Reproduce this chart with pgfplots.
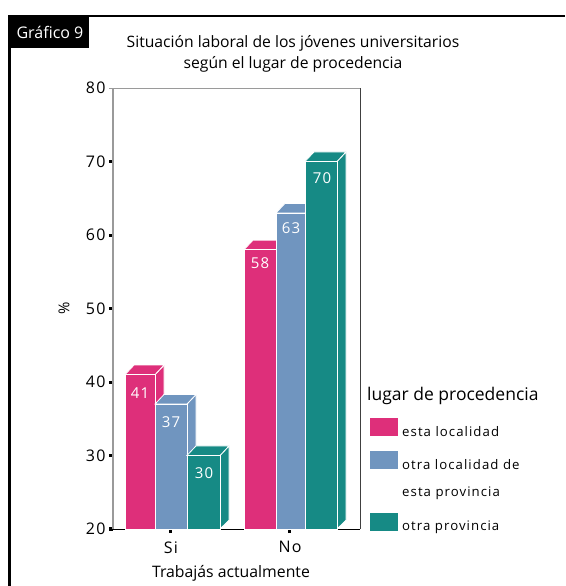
\documentclass[border=0pt]{standalone}
\usepackage{fontspec}
\setmainfont{Open Sans}
\newfontfamily\spaced[LetterSpace=8]{Open Sans}
\usepackage{pgfplots}
\pgfplotsset{compat=1.18}
\definecolor{magenta3d}{HTML}{DE2F7A}
\definecolor{blue3d}{HTML}{7095BF}
\definecolor{teal3d}{HTML}{168A85}
\definecolor{axisgrey}{HTML}{9A9A9A}

% one 3d bar: left, right, value, colour (x axis runs in image pixels)
\newcommand{\threedbar}[4]{%
  \addplot[fill=#4,draw=white,line width=0.8pt,forget plot] coordinates {(#2,20) (#2+9,21.2) (#2+9,#3+1.3) (#2,#3)} -- cycle;
  \addplot[fill=#4,draw=white,line width=0.8pt,forget plot] coordinates {(#1,#3) (#1+9,#3+1.3) (#2+9,#3+1.3) (#2,#3)} -- cycle;
  \addplot[fill=#4,draw=white,line width=0.8pt,forget plot] coordinates {(#1,20) (#1,#3) (#2,#3) (#2,20)} -- cycle;
}

\begin{document}
\begin{tikzpicture}[x=1pt,y=1pt]
  \path[use as bounding box] (0,0) rectangle (565,586);
  % frame
  \draw[line width=2.5pt] (9.5,0) -- (9.5,570) -- (565,570);
  \fill (8,538) rectangle (89,571);
  \node[white,font=\fontsize{16}{16}\selectfont] at (50,553.5) {Gráfico 9};
  \node[align=center,font=\fontsize{15.7}{21}\selectfont] at (293,532) {Situación laboral de los jóvenes universitarios\\según el lugar de procedencia};
  \begin{axis}[
      at={(113pt,57pt)},anchor=south west,
      scale only axis,width=247pt,height=441pt,
      xmin=113,xmax=360,ymin=20,ymax=80,
      clip=false,
      axis line style={line width=0.9pt},
      axis x line=bottom,axis y line=left,
      xtick={170,289},xticklabels={Si,No},
      ytick={20,30,40,50,60,70},
      extra y ticks={80},
      extra y tick style={tick style={axisgrey,line width=0.8pt}},
      tick style={black,line width=3pt},
      tickwidth=4pt,
      tick align=outside,
      y axis line style={axisgrey,line width=1.3pt,-},
      x axis line style={black,-},
      /pgf/number format/assume math mode=true,
      tick label style={font=\spaced\fontsize{16}{16}\selectfont},
      xticklabel style={yshift=-5pt,xshift=1pt},
      xlabel={Trabajás actualmente},
      xlabel style={font=\fontsize{15.8}{16}\selectfont,at={(axis cs:231,20)},anchor=north,yshift=-33pt},
      ylabel={\%},
      ylabel style={font=\fontsize{15}{15}\selectfont,at={(axis cs:113,50)},anchor=south,yshift=40pt},
      legend image code/.code={\fill[#1] (0pt,0pt) rectangle (28pt,18pt);},
      legend style={at={(axis cs:370,35.1)},anchor=north west,draw=none,fill=none,
        font=\spaced\fontsize{13.2}{27}\selectfont,row sep=15pt,inner sep=0pt,
        nodes={inner sep=0pt,text depth=},
        cells={anchor=base west},
        /tikz/every odd column/.append style={column sep=4pt}},
    ]
    \threedbar{125}{155}{41}{magenta3d}
    \threedbar{155}{187}{37}{blue3d}
    \threedbar{187}{220}{30}{teal3d}
    \threedbar{244}{276}{58}{magenta3d}
    \threedbar{276}{305}{63}{blue3d}
    \threedbar{305}{337}{70}{teal3d}
    % top and right edges of the box
    \addplot[axisgrey,line width=0.9pt,forget plot] coordinates {(113,80) (360,80)};
    \addplot[black!75,line width=0.9pt,forget plot] coordinates {(360,80) (360,20)};
    % value labels
    \addplot[only marks,mark=none,forget plot,
      nodes near coords,point meta=explicit symbolic,
      nodes near coords style={white,font=\spaced\fontsize{15}{15}\selectfont,anchor=center}]
      table[meta=l,x=x,y=y] {
      x y l
      140 38.5 41
      171 34.5 37
      204 27.6 30
      260 56.2 58
      291 61.0 63
      322 67.8 70
    };
    \addlegendimage{fill=magenta3d,draw=none}
    \addlegendimage{fill=blue3d,draw=none}
    \addlegendimage{fill=teal3d,draw=none}
    \legend{esta localidad,{\parbox[t]{130pt}{otra localidad de\\esta provincia\vspace{-2pt}}},otra provincia}
    \node[anchor=west,inner sep=0pt,font=\fontsize{17.5}{18}\selectfont] at (axis cs:367,38.1) {lugar de procedencia};
  \end{axis}
\end{tikzpicture}
\end{document}
